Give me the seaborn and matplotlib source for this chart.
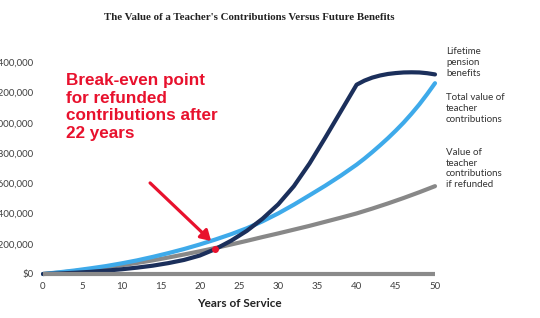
import matplotlib
matplotlib.use("Agg")
import matplotlib.pyplot as plt
import seaborn as sns
import pandas as pd
from matplotlib.ticker import FuncFormatter

years = [0, 2, 4, 6, 8, 10, 12, 14, 16, 18, 20, 22, 24, 26, 28, 30, 32, 34, 36, 38, 40,
         41, 42, 43, 44, 45, 46, 47, 48, 49, 50]
pension = [0, 3, 8, 14, 22, 31, 42, 55, 72, 93, 122, 165, 220, 285, 365, 460, 580, 730, 900, 1075, 1250,
           1277, 1297, 1311, 1321, 1327, 1331, 1332, 1331, 1326, 1318]
total_contrib = [0, 11, 23, 37, 52, 70, 90, 113, 138, 165, 195, 228, 263, 302, 348, 400, 458, 520, 583, 650, 722,
                 762, 805, 850, 897, 947, 1000, 1058, 1120, 1188, 1260]
refunded = [0, 9, 19, 31, 44, 58, 73, 90, 109, 129, 150, 172, 195, 219, 244, 268, 293, 318, 345, 372, 400,
            416, 432, 449, 466, 484, 502, 521, 540, 560, 580]

title = "The Value of a Teacher's Contributions Versus Future Benefits"
series_labels = ["Lifetime\npension\nbenefits", "Total value of\nteacher\ncontributions",
                 "Value of\nteacher\ncontributions\nif refunded"]
annotation = "Break-even point\nfor refunded\ncontributions after\n22 years"
break_even_year = 22
break_even_value = 166
xlabel = "Years of Service"

df = pd.DataFrame({"year": years, "pension": [v * 1000 for v in pension],
                   "total": [v * 1000 for v in total_contrib],
                   "refund": [v * 1000 for v in refunded]})

sns.set_theme(style="white")
plt.rcParams["font.family"] = ["Lato", "DejaVu Sans"]

fig = plt.figure(figsize=(5.4, 3.18), dpi=100)
ax = fig.add_axes([43 / 540, 1 - 274 / 318, (435 - 43) / 540, (274 - 62) / 318])

navy = "#1b2f5b"
light = "#3eaaea"
grey = "#888888"

sns.lineplot(data=df, x="year", y="refund", ax=ax, color=grey, lw=3, clip_on=False)
sns.lineplot(data=df, x="year", y="total", ax=ax, color=light, lw=3, clip_on=False)
sns.lineplot(data=df, x="year", y="pension", ax=ax, color=navy, lw=3, clip_on=False)

ax.set_xlim(0, 50)
ax.set_ylim(0, 1400000)
ax.set_xticks(range(0, 51, 5))
ax.set_yticks(range(0, 1400001, 200000))
ax.yaxis.set_major_formatter(FuncFormatter(lambda v, p: f"${v:,.0f}"))
for s in ["top", "right", "left"]:
    ax.spines[s].set_visible(False)
ax.spines["bottom"].set_color("#8a8a8a")
ax.spines["bottom"].set_linewidth(3)
ax.spines["bottom"].set_capstyle("butt")
ax.tick_params(axis="both", length=0, labelsize=7, colors="#404040")
ax.tick_params(axis="y", pad=7)
ax.tick_params(axis="x", pad=6)
ax.set_xlabel(xlabel, fontsize=8.5, fontweight="bold", color="#222222", labelpad=5)
ax.set_ylabel("")

fig.text(0.462, 1 - 17 / 318, title, ha="center", va="center", fontsize=7.8,
         fontweight="bold", family="Liberation Serif", color="#222222")

fig.text(66 / 540, 1 - 73 / 318, annotation, ha="left", va="top", fontsize=12.3,
         fontweight="bold", family="Liberation Sans", color="#e8112d", linespacing=1.22)

ax.annotate("", xy=(21.7, 205000), xytext=(13.4, 614000),
            arrowprops=dict(arrowstyle="-|>,head_length=0.5,head_width=0.3", color="#e8112d", lw=2.3),
            annotation_clip=False)
ax.plot([break_even_year], [break_even_value * 1000], "o", color="#e8112d", ms=4, zorder=5)

label_tops = [47, 93, 148]
for lab, top in zip(series_labels, label_tops):
    fig.text(446 / 540, 1 - top / 318, lab, ha="left", va="top", fontsize=7, color="#333333",
             linespacing=1.25)

fig.savefig("out.png", dpi=100)
